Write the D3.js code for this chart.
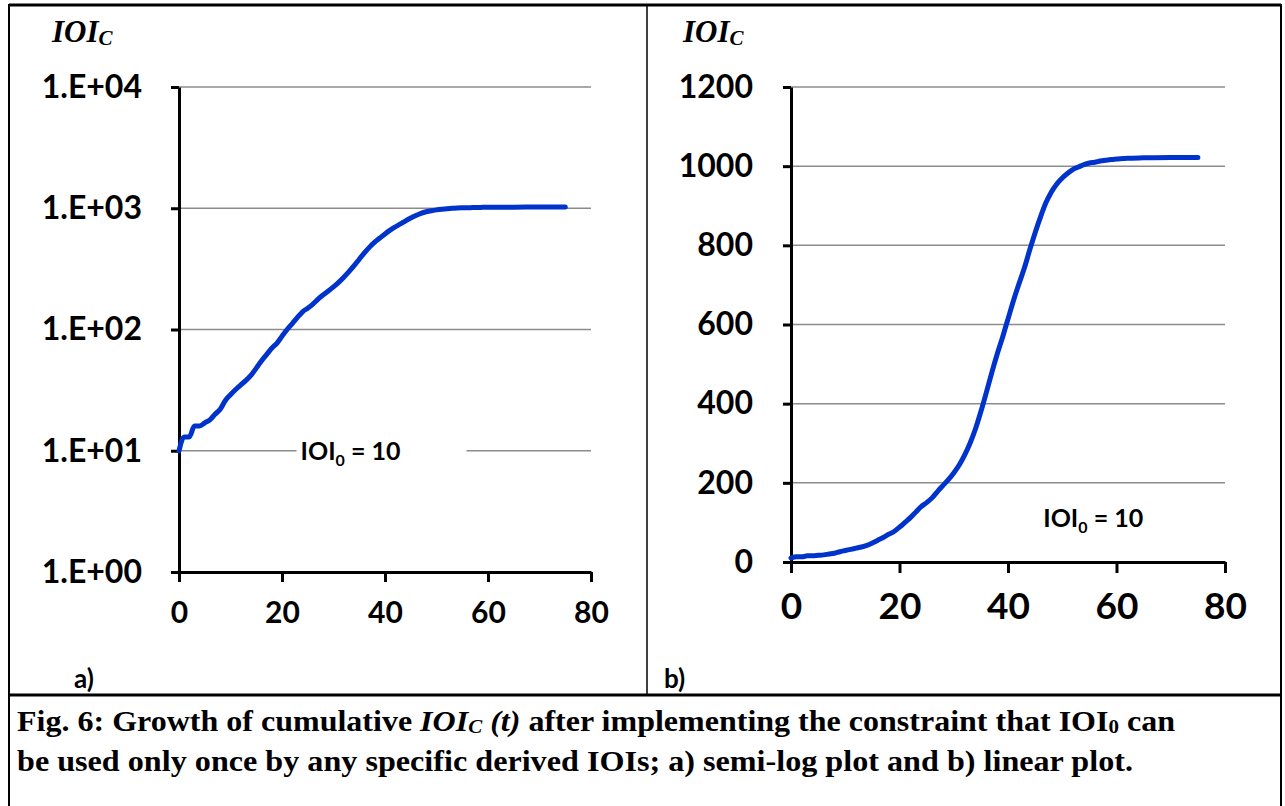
<!DOCTYPE html>
<html>
<head>
<meta charset="utf-8">
<script src="https://cdn.jsdelivr.net/npm/d3@7"></script>
<style>
  body { margin: 0; background: #fff; }
  svg { display: block; }
</style>
</head>
<body>
<div id="fig"></div>
<script>
// data: time step and cumulative IOI_C
var tValues = [0, 1, 2, 3, 4, 5, 6, 7, 8, 9, 10, 11, 12, 13, 14, 15, 16, 17, 18, 19,
  20, 21, 22, 23, 24, 25, 26, 27, 28, 29, 30, 31, 32, 33, 34, 35, 36, 37, 38, 39,
  40, 41, 42, 43, 44, 45, 46, 47, 48, 49, 50, 51, 52, 53, 54, 55, 56, 57, 58, 59,
  60, 62, 65, 70, 75];
var ioiValues = [10, 13, 13, 16, 16, 17, 18, 20, 22, 26, 29, 32, 35, 38, 42, 48, 55, 62, 70, 77,
  88, 100, 112, 126, 140, 150, 162, 178, 193, 208, 225, 245, 270, 300, 336, 380, 428, 478, 525, 568,
  614, 660, 702, 742, 788, 832, 872, 908, 935, 955, 970, 982, 992, 998, 1004, 1008, 1010, 1013, 1015, 1017,
  1018, 1020, 1021, 1022, 1022];

var xTicks = [0, 20, 40, 60, 80];
var logTicks = [1, 10, 100, 1000, 10000];
var linTicks = [0, 200, 400, 600, 800, 1000, 1200];

var data = tValues.map(function(t, i) { return {t: t, v: ioiValues[i]}; });

var W = 1285, H = 806;
var sans = "Lato, 'Open Sans', sans-serif";
var serif = "'Liberation Serif', 'DejaVu Serif', serif";
var blue = "#0033cc";

var svg = d3.select("#fig").append("svg")
  .attr("width", W)
  .attr("height", H);

// frame of the figure
var frame = svg.append("g").attr("stroke", "#000").attr("fill", "none");
frame.append("line").attr("x1", 9).attr("x2", 1281).attr("y1", 5).attr("y2", 5).attr("stroke-width", 3);
frame.append("line").attr("x1", 9).attr("x2", 9).attr("y1", 4).attr("y2", H).attr("stroke-width", 2);
frame.append("line").attr("x1", 1281).attr("x2", 1281).attr("y1", 4).attr("y2", H).attr("stroke-width", 2);
frame.append("line").attr("x1", 647).attr("x2", 647).attr("y1", 5).attr("y2", 695).attr("stroke-width", 1.5);
frame.append("line").attr("x1", 9).attr("x2", 1281).attr("y1", 695).attr("y2", 695).attr("stroke-width", 3);

function styleAxis(g, size) {
  g.select(".domain").attr("stroke", "#000").attr("stroke-width", 3);
  g.selectAll(".tick line").attr("stroke", "#000").attr("stroke-width", 3);
  g.selectAll(".tick text")
    .attr("fill", "#000")
    .attr("font-family", sans)
    .attr("font-weight", 700)
    .attr("font-size", size);
}

function ioiLabel(sel) {
  sel.attr("font-family", sans).attr("font-weight", 700).attr("font-size", 25);
  sel.append("tspan").text("IOI");
  sel.append("tspan").attr("font-size", 16).attr("dy", 6).text("0");
  sel.append("tspan").attr("dy", -6).text(" = 10");
}

// ---------- a) semi-log plot ----------
var xA = d3.scaleLinear().domain([0, 80]).range([179, 591]);
var yA = d3.scaleLog().domain([1, 10000]).range([572, 87]);

var gA = svg.append("g");

gA.selectAll(".gridA")
  .data(logTicks.slice(1))
  .enter()
  .append("line")
    .attr("x1", xA(0))
    .attr("x2", xA(80))
    .attr("y1", function(d) { return yA(d); })
    .attr("y2", function(d) { return yA(d); })
    .attr("stroke", "#8c8c8c")
    .attr("stroke-width", 1.5);

// label box that breaks the 1.E+01 grid line
var labA = gA.append("g").attr("transform", "translate(" + xA(23.6) + "," + (yA(10) + 9) + ")");
labA.append("rect").attr("x", -4).attr("y", -26).attr("width", 170).attr("height", 40).attr("fill", "#fff");
labA.append("text").call(ioiLabel);

gA.append("g")
  .attr("transform", "translate(0," + yA(1) + ")")
  .call(d3.axisBottom(xA).tickValues(xTicks).tickSize(10).tickSizeOuter(0).tickPadding(20))
  .call(styleAxis, 30);

gA.append("g")
  .attr("transform", "translate(" + xA(0) + ",0)")
  .call(d3.axisLeft(yA).tickValues(logTicks).tickSize(8).tickSizeOuter(0).tickPadding(29)
    .tickFormat(function(d) { return "1.E+0" + Math.round(Math.log10(d)); }))
  .call(styleAxis, 32);

gA.append("path")
  .datum(data)
  .attr("fill", "none")
  .attr("stroke", blue)
  .attr("stroke-width", 5)
  .attr("stroke-linecap", "round")
  .attr("stroke-linejoin", "round")
  .attr("d", d3.line()
    .curve(d3.curveMonotoneX)
    .x(function(d) { return xA(d.t); })
    .y(function(d) { return yA(d.v); }));

// ---------- b) linear plot ----------
var xB = d3.scaleLinear().domain([0, 80]).range([791, 1225]);
var yB = d3.scaleLinear().domain([0, 1200]).range([562, 87]);

var gB = svg.append("g");

gB.selectAll(".gridB")
  .data(linTicks.slice(1))
  .enter()
  .append("line")
    .attr("x1", xB(0))
    .attr("x2", xB(80))
    .attr("y1", function(d) { return yB(d); })
    .attr("y2", function(d) { return yB(d); })
    .attr("stroke", "#8c8c8c")
    .attr("stroke-width", 1.5);

gB.append("text")
  .attr("x", xB(46.5))
  .attr("y", yB(100) + 5)
  .call(ioiLabel);

gB.append("g")
  .attr("transform", "translate(0," + yB(0) + ")")
  .call(d3.axisBottom(xB).tickValues(xTicks).tickSize(11).tickSizeOuter(0).tickPadding(20))
  .call(styleAxis, 37);

gB.append("g")
  .attr("transform", "translate(" + xB(0) + ",0)")
  .call(d3.axisLeft(yB).tickValues(linTicks).tickSize(8).tickSizeOuter(0).tickPadding(30)
    .tickFormat(d3.format("d")))
  .call(styleAxis, 32);

gB.append("path")
  .datum(data)
  .attr("fill", "none")
  .attr("stroke", blue)
  .attr("stroke-width", 5)
  .attr("stroke-linecap", "round")
  .attr("stroke-linejoin", "round")
  .attr("d", d3.line()
    .curve(d3.curveMonotoneX)
    .x(function(d) { return xB(d.t); })
    .y(function(d) { return yB(d.v); }));

// axis titles IOI_C
[52, 683].forEach(function(x) {
  var t = svg.append("text")
    .attr("x", x).attr("y", 42)
    .attr("font-family", serif).attr("font-weight", 700).attr("font-style", "italic")
    .attr("font-size", 31);
  t.append("tspan").text("IOI");
  t.append("tspan").attr("font-size", 21).attr("dy", 3).text("C");
});

// panel letters
svg.append("text").attr("x", 74).attr("y", 688).attr("font-family", sans)
  .attr("font-weight", 700).attr("font-size", 26).text("a)");
svg.append("text").attr("x", 664).attr("y", 688).attr("font-family", sans)
  .attr("font-weight", 700).attr("font-size", 26).text("b)");

// caption
var cap1 = svg.append("text").attr("x", 17).attr("y", 731)
  .attr("font-family", serif).attr("font-weight", 700).attr("font-size", 29);
cap1.append("tspan").text("Fig. 6: Growth of cumulative ");
cap1.append("tspan").attr("font-style", "italic").text("IOI");
cap1.append("tspan").attr("font-style", "italic").attr("font-size", 19).attr("dy", 2).text("C");
cap1.append("tspan").attr("font-style", "italic").attr("dy", -2).text(" (t)");
cap1.append("tspan").text(" after implementing the constraint that IOI");
cap1.append("tspan").attr("font-size", 19).attr("dy", 2).text("0");
cap1.append("tspan").attr("dy", -2).text(" can");

var cap2 = svg.append("text").attr("x", 17).attr("y", 771)
  .attr("font-family", serif).attr("font-weight", 700).attr("font-size", 29)
  .text("be used only once by any specific derived IOIs; a) semi-log plot and b) linear plot.");

// squeeze caption lines to the reference widths
cap1.attr("textLength", 1158).attr("lengthAdjust", "spacingAndGlyphs");
cap2.attr("textLength", 1116).attr("lengthAdjust", "spacingAndGlyphs");
</script>
</body>
</html>
